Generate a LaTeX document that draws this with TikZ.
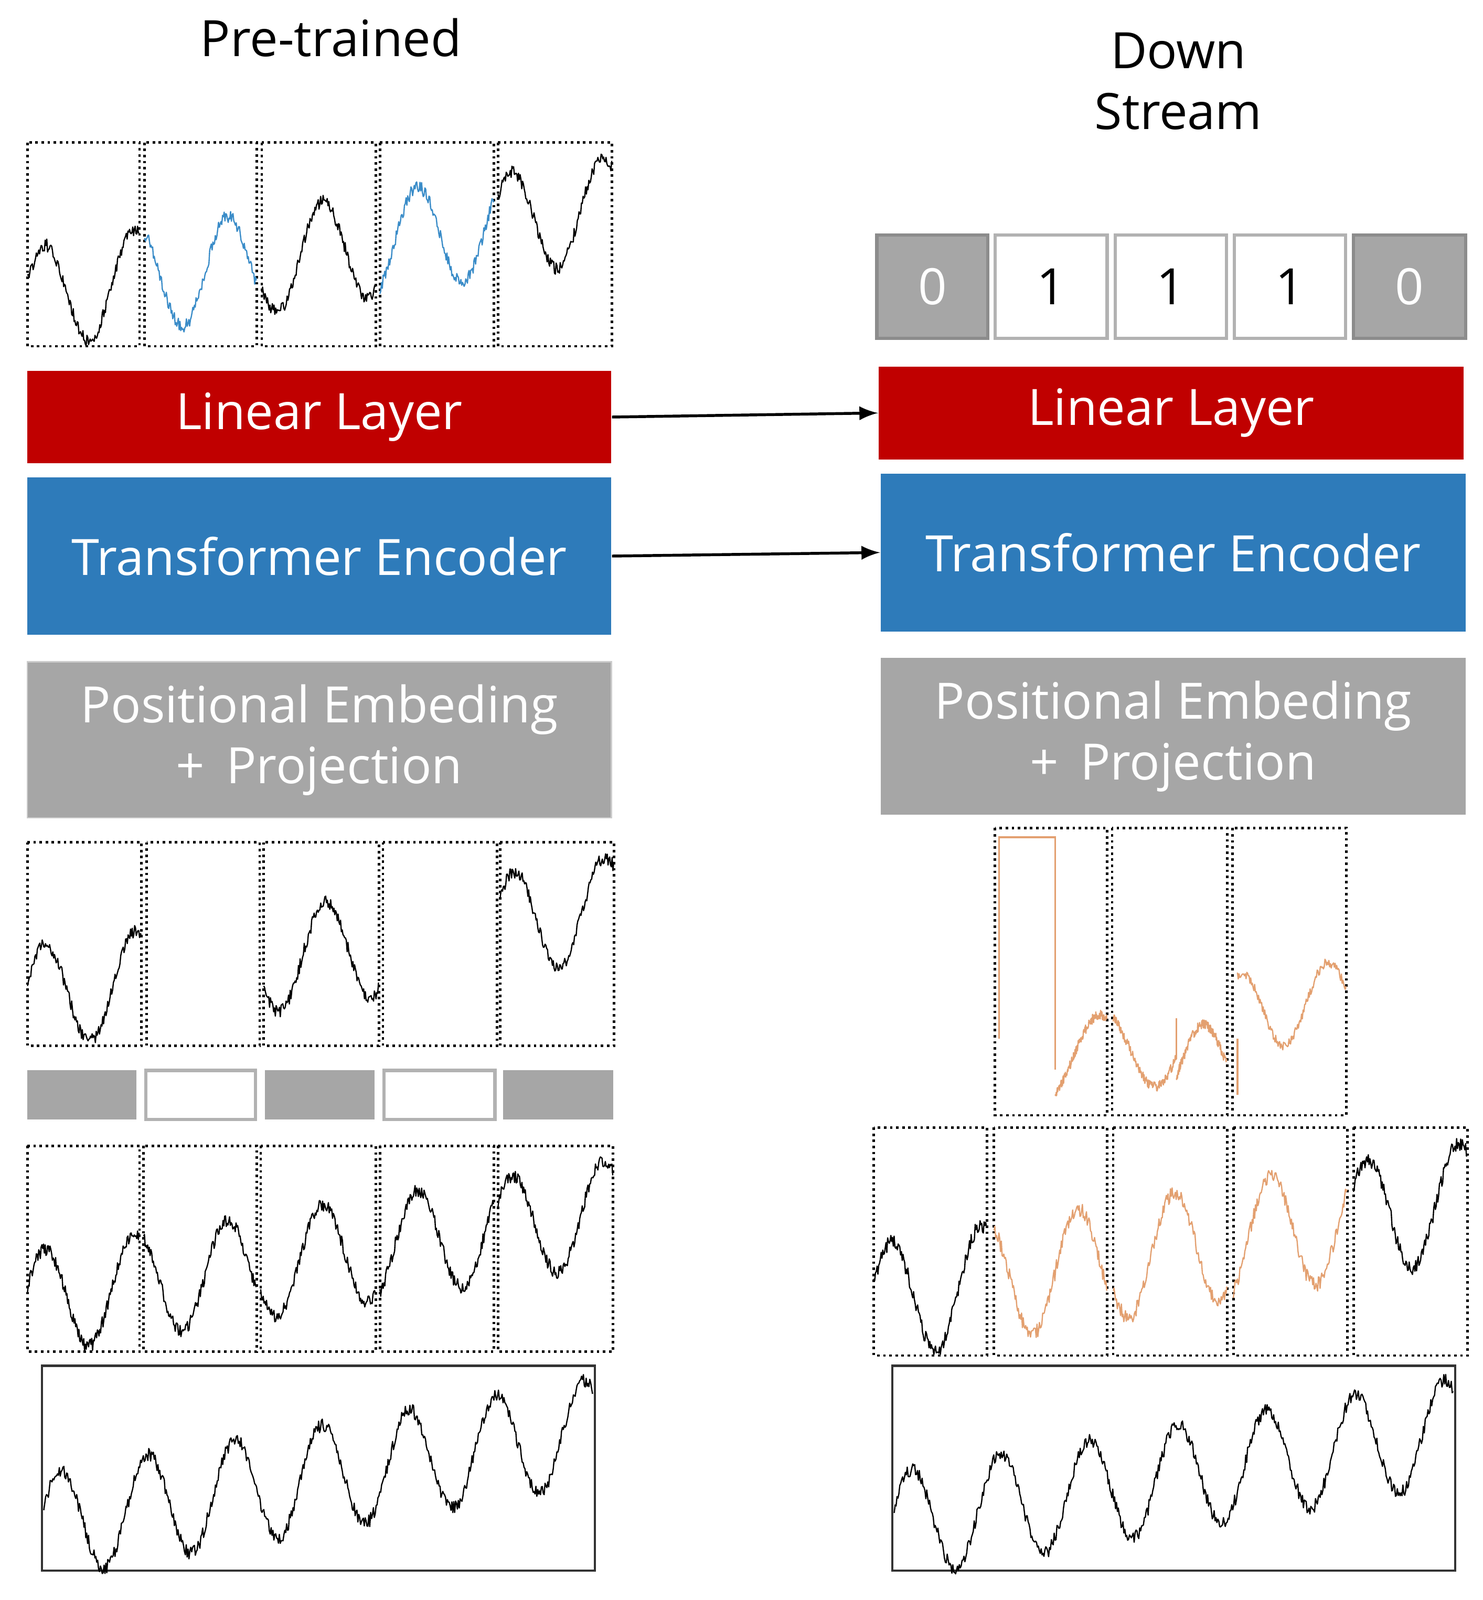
\documentclass[tikz,border=0pt]{standalone}
\usepackage{fontspec}
\setmainfont{Open Sans}
\definecolor{lred}{HTML}{C00000}
\definecolor{tblue}{HTML}{2E7BBA}
\definecolor{pgray}{HTML}{A6A6A6}
\definecolor{sblue}{HTML}{3A8CC8}
\definecolor{sorange}{HTML}{E3A070}
\begin{document}
\begin{tikzpicture}[x=0.01cm,y=-0.01cm,
  layer/.style={draw=none,text=white,font=\fontsize{14}{17}\selectfont,align=center,inner sep=0pt},
  win/.style={densely dotted,line width=0.7pt},
  numbox/.style={draw=black!30,line width=0.9pt,font=\fontsize{14}{17}\selectfont,inner sep=0pt},
  sig/.style={line width=0.35pt,line join=round},
  declare function={g(\t)=0.2+0.28*sin(360*(6.3*\t+0.057))+0.5*\t+0.035*rand;}]
\useasboundingbox (0,0) rectangle (1456,1571);
\newcommand\sigbox[7]{%
  \draw[sig,#7] plot[domain=#5:#6,samples=140,variable=\t] ({#1+(\t-#5)/(#6-#5)*(#2-#1)},{#4-g(\t)*(#4-#3)});}
% titles
\node[font=\fontsize{14}{17}\selectfont] (t1) at (325,37) {Pre-trained};
\node[font=\fontsize{14}{17}\selectfont,align=center] (t2) at (1157,80) {Down\\Stream};
% ---------- left top windows
\foreach \a/\b/\i/\c in {27/137/0/black,142/252/1/sblue,257/369/2/black,373/485/3/sblue,489/601/4/black}{
  \draw[win] (\a,140) rectangle (\b,340);
  \pgfmathsetmacro\ta{\i/5}\pgfmathsetmacro\tb{(\i+1)/5}
  \sigbox{\a}{\b}{150}{330}{\ta}{\tb}{\c}
}
% layers left
\node[layer,fill=lred,minimum width=5.73cm,minimum height=0.91cm] (ll) at (313.5,409.5) {Linear Layer};
\node[layer,fill=tblue,minimum width=5.73cm,minimum height=1.54cm] (te) at (313.5,546) {Transformer Encoder};
\node[layer,fill=pgray,minimum width=5.73cm,minimum height=1.53cm,draw=black!20] (pe) at (313.5,726.5) {Positional Embeding\\+\, Projection};
% left masked windows
\foreach \a/\b/\i/\s in {27/139/0/1,144/255/1/0,259/372/2/1,376/488/3/0,491/603/4/1}{
  \draw[win] (\a,827) rectangle (\b,1027);
  \ifnum\s=1
  \pgfmathsetmacro\ta{\i/5}\pgfmathsetmacro\tb{(\i+1)/5}
  \sigbox{\a}{\b}{837}{1017}{\ta}{\tb}{black}
  \fi
}
% mask row
\foreach \a/\b/\s in {27/134/1,143/251/0,260/368/1,377/486/0,494/602/1}{
  \ifnum\s=1 \fill[pgray] (\a,1051) rectangle (\b,1099);
  \else \draw[black!30,line width=0.9pt] (\a,1051) rectangle (\b,1099); \fi
}
% left full windows
\foreach \a/\b/\i in {27/137/0,141/252/1,256/369/2,373/485/3,489/602/4}{
  \draw[win] (\a,1125) rectangle (\b,1327);
  \pgfmathsetmacro\ta{\i/5}\pgfmathsetmacro\tb{(\i+1)/5}
  \sigbox{\a}{\b}{1135}{1317}{\ta}{\tb}{black}
}
\draw[line width=0.6pt,black!80] (41,1341) rectangle (584,1542);
\draw[sig] plot[domain=0:1,samples=600,variable=\t] ({43+\t*539},{1535-g(\t)*185});
% ---------- right
\node[numbox,fill=pgray,text=white,minimum width=1.09cm,minimum height=1.01cm,draw=black!45] (n1) at (915.5,281.5) {0};
\node[numbox,minimum width=1.10cm,minimum height=1.01cm] (n2) at (1032,281.5) {1};
\node[numbox,minimum width=1.09cm,minimum height=1.01cm] (n3) at (1149.5,281.5) {1};
\node[numbox,minimum width=1.09cm,minimum height=1.01cm] (n4) at (1266.5,281.5) {1};
\node[numbox,fill=pgray,text=white,minimum width=1.10cm,minimum height=1.01cm,draw=black!45] (n5) at (1384,281.5) {0};
\node[layer,fill=lred,minimum width=5.74cm,minimum height=0.91cm] (rl) at (1150,405.5) {Linear Layer};
\node[layer,fill=tblue,minimum width=5.74cm,minimum height=1.55cm] (rt) at (1152,542.5) {Transformer Encoder};
\node[layer,fill=pgray,minimum width=5.74cm,minimum height=1.54cm] (rp) at (1152,723) {Positional Embeding\\+\, Projection};
\draw[-latex,line width=0.8pt] (ll.east) -- (rl.west);
\draw[-latex,line width=0.8pt] (te.east) -- (rt.west);
% orange reconstructed windows
\draw[win] (977,813) rectangle (1087,1095);
\draw[win] (1092,813) rectangle (1205,1095);
\draw[win] (1210,813) rectangle (1322,1095);
\draw[sorange,line width=0.5pt] (981,1020) -- (981,822) -- (1036,822) -- (1036,1050);
\sigbox{1036}{1087}{950}{1085}{0.28}{0.36}{sorange}
\sigbox{1093}{1155}{950}{1085}{0.36}{0.46}{sorange}
\draw[sorange,line width=0.5pt] (1155,1000) -- (1155,1040);
\sigbox{1155}{1205}{970}{1105}{0.46}{0.55}{sorange}
\draw[sorange,line width=0.5pt] (1215,1020) -- (1215,1075);
\sigbox{1215}{1322}{920}{1055}{0.5}{0.7}{sorange}
% right full windows
\foreach \a/\b/\i/\c in {858/969/0/black,976/1087/1/sorange,1093/1205/2/sorange,1211/1323/3/sorange,1329/1441/4/black}{
  \draw[win] (\a,1107) rectangle (\b,1331);
  \pgfmathsetmacro\ta{\i/5}\pgfmathsetmacro\tb{(\i+1)/5}
  \sigbox{\a}{\b}{1117}{1321}{\ta}{\tb}{\c}
}
\draw[line width=0.6pt,black!80] (876,1341) rectangle (1429,1542);
\draw[sig] plot[domain=0:1,samples=600,variable=\t] ({878+\t*549},{1535-g(\t)*185});
\end{tikzpicture}
\end{document}
